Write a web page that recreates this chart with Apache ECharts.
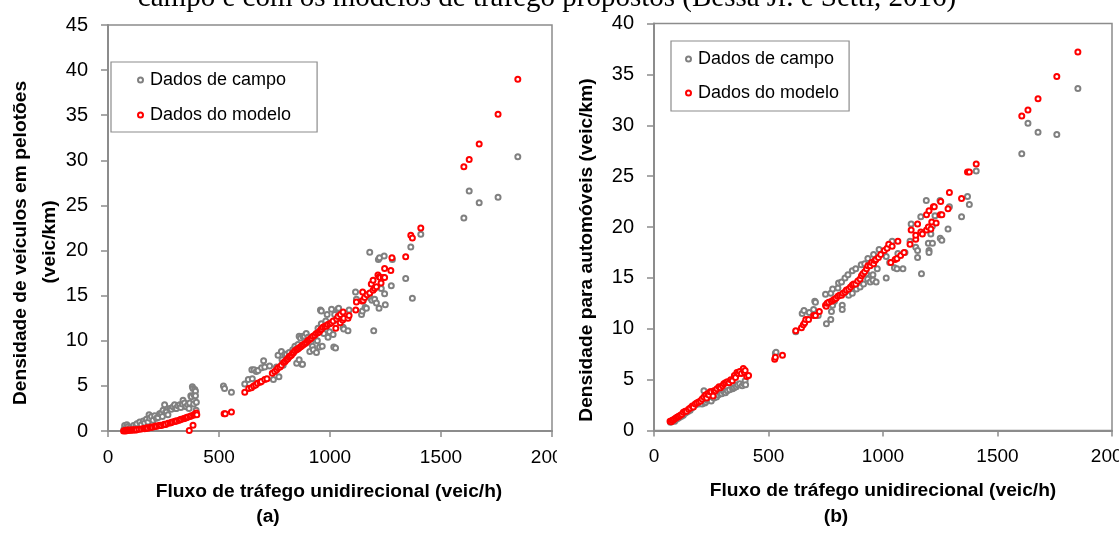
<!DOCTYPE html>
<html>
<head>
<meta charset="utf-8">
<script src="https://cdn.jsdelivr.net/npm/echarts@6/dist/echarts.min.js"></script>
<style>
html,body{margin:0;padding:0;background:#fff;}
#chart{width:1119px;height:533px;}
</style>
</head>
<body>
<div id="chart"></div>
<script>
// ---------- DATA ----------
const seriesNames = ['Dados de campo', 'Dados do modelo'];
const yMaxA = 45;
const yMaxB = 40;

// (a) Densidade de veículos em pelotões
const campoA = [
  [72,0.2],[75,0.6],[80,0.3],[85,0.7],[90,0.5],[95,0.2],[100,0.4],[110,0.3],[115,0.6],[125,0.5],[130,0.8],[143,1.0],[150,0.7],[159,1.1],[165,0.9],[173,1.3],[180,1.0],[185,1.8],[188,1.4],[196,1.6],[203,1.2],[210,1.7],[218,1.4],[225,1.5],[232,1.9],[240,2.0],[245,1.6],[248,2.3],[255,2.9],[260,2.1],[263,2.1],[270,1.8],[278,2.5],[285,2.4],[293,2.7],[300,2.9],[305,2.5],[308,2.5],[315,2.8],[323,2.9],[328,2.6],[335,3.0],[338,3.4],[345,3.1],[352,2.7],[360,2.9],[365,2.5],[368,3.1],[373,3.9],[376,3.8],[380,4.9],[383,4.7],[386,3.0],[388,4.0],[391,4.6],[394,4.4],[394,3.9],[397,2.3],[398,3.2],
  [520,5.0],[525,4.7],[556,4.3],[616,5.2],[632,5.7],[648,6.8],[650,5.8],[658,6.8],[668,6.6],[676,6.7],[692,7.0],[701,7.8],[706,7.1],[728,7.2],[745,5.7],[759,7.1],[766,8.4],[770,6.0],[781,8.8],[784,7.9],[789,7.3],[796,8.5],[804,8.5],[816,8.7],[832,9.0],[834,8.7],[842,9.4],[849,9.1],[850,7.5],[856,9.6],[861,7.9],[861,10.5],[867,10.3],[874,7.4],[876,7.4],[878,10.5],[885,10.5],[893,10.8],[901,10.4],[909,8.8],[914,9.8],[916,10.3],[921,9.4],[925,9.0],[939,8.7],[943,10.0],[946,11.4],[953,9.3],[957,13.4],[961,11.9],[961,13.3],[965,9.4],[966,11.3],[972,10.8],[981,12.2],[987,12.9],[991,10.4],[998,11.0],[1007,13.5],[1014,10.7],[1017,9.3],[1021,12.9],[1025,9.2],[1029,12.3],[1035,13.5],[1039,13.6],[1046,12.6],[1059,11.5],[1062,11.3],[1081,11.1],[1086,13.4],[1115,15.4],[1119,14.6],[1142,12.9],[1146,13.3],[1149,14.4],[1158,13.7],[1164,13.6],[1179,19.8],[1183,14.7],[1189,14.5],[1197,11.1],[1201,14.6],[1209,14.2],[1218,19.0],[1221,13.6],[1223,19.2],[1231,15.8],[1244,19.4],[1246,15.2],[1249,14.0],[1276,16.1],[1281,19.0],[1341,16.9],[1364,20.4],[1371,14.7],[1409,21.8],[1603,23.6],[1627,26.6],[1672,25.3],[1757,25.9],[1846,30.4]
];
const modeloA = [
  [70,0.0],[75,0.05],[80,0.0],[85,0.1],[90,0.05],[95,0.1],[100,0.08],[105,0.1],[110,0.12],[115,0.1],[120,0.15],[125,0.12],[130,0.15],[140,0.2],[150,0.22],[160,0.28],[165,0.25],[170,0.3],[175,0.35],[180,0.3],[190,0.4],[195,0.45],[200,0.42],[210,0.5],[215,0.55],[220,0.52],[230,0.6],[235,0.65],[240,0.62],[250,0.7],[255,0.75],[260,0.72],[270,0.85],[280,0.9],[285,0.95],[290,1.0],[300,1.05],[305,1.1],[310,1.12],[320,1.2],[325,1.25],[330,1.3],[340,1.35],[345,1.4],[350,1.45],[355,1.5],[360,1.55],[370,1.6],[375,1.7],[385,1.75],[390,1.85],[395,1.9],[398,2.0],[400,1.8],[366,0.05],[383,0.65],
  [523,1.9],[528,1.9],[556,2.1],[616,4.3],[634,4.7],[646,4.8],[656,5.0],[665,5.1],[673,5.3],[685,5.4],[691,5.5],[706,5.7],[716,5.8],[740,6.4],[751,6.6],[760,6.8],[766,7.0],[775,7.1],[781,7.3],[791,7.6],[798,7.7],[804,7.9],[810,8.0],[815,8.2],[820,8.3],[826,8.4],[831,8.6],[836,8.7],[842,8.9],[849,9.0],[855,9.1],[860,9.2],[866,9.3],[871,9.4],[876,9.5],[881,9.6],[888,9.7],[894,9.8],[900,10.0],[905,10.1],[910,10.2],[916,10.3],[923,10.5],[931,10.6],[938,10.8],[946,10.9],[952,11.0],[957,11.2],[962,11.3],[968,11.5],[976,11.6],[984,11.6],[990,11.8],[999,11.9],[1006,12.0],[1014,12.2],[1026,11.4],[1030,12.4],[1036,12.7],[1046,12.0],[1047,12.9],[1057,12.3],[1059,13.2],[1062,12.5],[1081,12.5],[1086,12.8],[1116,13.4],[1119,14.3],[1144,14.4],[1149,14.5],[1147,15.4],[1156,14.8],[1167,15.1],[1179,15.3],[1186,16.3],[1194,15.6],[1194,16.7],[1201,15.8],[1209,16.0],[1216,17.3],[1222,17.1],[1226,17.0],[1230,16.4],[1240,17.0],[1246,18.0],[1246,17.0],[1274,17.8],[1279,19.2],[1341,19.3],[1364,21.7],[1371,21.4],[1409,22.5],[1603,29.3],[1627,30.1],[1672,31.8],[1757,35.1],[1846,39.0]
];

// (b) Densidade para automóveis
const campoB = [
  [72,0.8],[78,0.9],[85,1.0],[90,0.9],[98,1.1],[105,1.2],[112,1.3],[120,1.4],[128,1.5],[135,1.7],[142,1.8],[150,1.9],[158,2.0],[165,2.2],[172,2.4],[180,2.5],[188,2.7],[195,2.6],[203,2.8],[210,2.6],[218,3.9],[222,2.7],[226,2.8],[232,3.0],[240,3.1],[250,2.9],[255,3.3],[262,3.2],[273,3.3],[280,3.5],[290,3.6],[296,3.6],[305,3.8],[312,3.7],[320,3.9],[330,4.0],[343,4.1],[350,4.2],[359,4.3],[365,4.5],[374,4.6],[385,4.4],[393,4.6],[398,4.9],[400,4.5],
  [530,7.6],[533,7.7],[619,9.7],[647,11.5],[655,11.8],[678,11.6],[697,11.9],[702,12.7],[705,12.6],[717,11.3],[749,13.4],[753,10.5],[772,13.5],[772,10.9],[775,11.7],[780,13.9],[780,12.3],[788,12.7],[803,14.0],[806,14.5],[819,14.6],[822,12.3],[822,11.9],[834,15.0],[847,15.3],[850,13.3],[866,15.7],[866,13.5],[881,15.9],[884,13.9],[900,14.1],[905,16.3],[915,14.4],[920,16.4],[928,15.4],[933,14.9],[934,16.9],[944,14.6],[956,14.8],[956,15.3],[959,17.3],[970,14.6],[975,15.9],[983,17.8],[1014,17.1],[1014,15.0],[1029,16.5],[1040,18.6],[1050,16.0],[1061,15.9],[1065,17.4],[1087,15.9],[1096,17.5],[1118,18.6],[1123,20.3],[1143,18.0],[1151,17.7],[1151,17.0],[1165,21.0],[1168,15.4],[1189,22.6],[1198,18.4],[1201,17.7],[1201,17.5],[1209,19.3],[1216,20.1],[1216,18.4],[1227,21.1],[1249,22.6],[1250,18.9],[1257,18.7],[1284,19.8],[1290,22.0],[1343,21.0],[1369,23.0],[1377,22.2],[1407,25.5],[1606,27.2],[1633,30.2],[1677,29.3],[1759,29.1],[1851,33.6]
];
const modeloB = [
  [70,0.9],[75,0.85],[80,1.0],[83,1.0],[88,1.1],[94,1.2],[100,1.3],[105,1.35],[109,1.4],[115,1.5],[122,1.6],[128,1.8],[136,1.9],[142,1.9],[151,2.1],[158,2.2],[167,2.4],[172,2.3],[180,2.6],[187,2.7],[195,2.8],[203,2.9],[210,3.1],[218,3.3],[225,3.5],[230,3.2],[234,3.6],[240,3.5],[245,3.8],[250,3.8],[258,3.4],[262,3.9],[268,3.9],[275,4.1],[284,4.3],[290,4.2],[299,4.4],[305,4.6],[312,4.7],[320,4.8],[328,4.7],[335,5.0],[342,4.9],[351,5.4],[356,5.2],[362,5.7],[368,5.6],[374,5.8],[382,5.6],[390,6.1],[395,5.7],[398,5.9],[405,5.3],[413,5.4],
  [527,7.0],[530,7.2],[561,7.4],[619,9.8],[644,10.1],[652,10.4],[658,10.6],[663,10.9],[675,10.9],[697,11.3],[705,11.3],[722,11.7],[749,12.3],[752,12.2],[756,12.5],[763,12.6],[775,12.7],[782,12.8],[788,12.9],[795,13.0],[803,13.2],[810,13.3],[819,13.3],[825,13.5],[834,13.6],[840,13.8],[850,13.9],[858,14.1],[866,14.3],[872,14.4],[881,14.4],[890,14.7],[900,14.9],[906,15.2],[912,15.4],[920,15.6],[928,15.9],[934,16.2],[944,16.2],[950,16.5],[959,16.4],[965,16.7],[969,16.8],[980,17.0],[990,17.3],[1006,17.7],[1018,17.9],[1025,18.3],[1034,16.5],[1040,18.1],[1053,16.8],[1061,16.9],[1065,18.6],[1077,17.2],[1092,17.5],[1118,18.3],[1123,19.7],[1143,18.8],[1143,19.2],[1151,20.3],[1165,19.5],[1172,19.3],[1190,19.7],[1190,21.2],[1198,20.0],[1201,21.6],[1209,19.8],[1213,20.5],[1220,22.0],[1224,22.0],[1232,20.4],[1250,21.2],[1252,22.5],[1257,21.2],[1284,21.8],[1290,23.4],[1343,22.8],[1369,25.4],[1377,25.4],[1407,26.2],[1606,30.9],[1633,31.5],[1677,32.6],[1759,34.8],[1851,37.2]
];

// ---------- STYLE ----------
const FONT = '"Liberation Sans", Arial, Helvetica, sans-serif';
const AXIS_GREY = '#8c8c8c';
const GREY = '#808080';
const RED = '#ff0000';

function xAxisCfg(gridIndex) {
  return {
    gridIndex, type: 'value', min: 0, max: 2000, interval: 500,
    splitLine: {show: false},
    axisLine: {show: true, onZero: false, lineStyle: {color: AXIS_GREY, width: 2}},
    axisTick: {show: true, length: 6, lineStyle: {color: AXIS_GREY, width: 1.5}},
    axisLabel: {color: '#000', fontSize: 19, fontFamily: FONT, margin: 17,
      showMaxLabel: true, showMinLabel: true, hideOverlap: false, formatter: v => String(v)}
  };
}
function yAxisCfg(gridIndex, max) {
  return {
    gridIndex, type: 'value', min: 0, max: max, interval: 5,
    splitLine: {show: false},
    axisLine: {show: true, onZero: false, lineStyle: {color: AXIS_GREY, width: 2}},
    axisTick: {show: true, length: 7, lineStyle: {color: AXIS_GREY, width: 1.5}},
    axisLabel: {color: '#000', fontSize: 20, fontFamily: FONT, margin: 20, formatter: v => String(v)}
  };
}
function scatter(name, data, xi, color) {
  return {
    name, type: 'scatter', xAxisIndex: xi, yAxisIndex: xi, data,
    symbol: 'emptyCircle', symbolSize: 5,
    itemStyle: {color: color, borderColor: color, borderWidth: 1.3, opacity: 1},
    emphasis: {disabled: true},
    z: color === RED ? 3 : 2
  };
}
function legendCfg(left, top, padding, gap) {
  return {
    left, top, orient: 'vertical',
    backgroundColor: '#fff',
    borderColor: AXIS_GREY, borderWidth: 1.2, borderRadius: 0,
    padding, itemGap: gap,
    itemWidth: 5, itemHeight: 5,
    textStyle: {fontSize: 18, fontFamily: FONT, color: '#000', lineHeight: 20, padding: [0,0,0,2]},
    data: seriesNames.map((n, i) => ({name: n, icon: 'emptyCircle',
      itemStyle: {color: i ? RED : GREY, borderColor: i ? RED : GREY, borderWidth: 1}})),
    selectedMode: false
  };
}
function txt(x, y, text, size, bold, rot, family) {
  return {
    type: 'text', x, y, rotation: rot || 0, silent: true,
    style: {
      text, fill: '#000', fontSize: size, fontWeight: bold ? 'bold' : 'normal',
      fontFamily: family || FONT,
      align: 'center', verticalAlign: 'middle',
      textAlign: 'center', textVerticalAlign: 'middle'
    }
  };
}

const option = {
  backgroundColor: '#fff',
  animation: false,
  grid: [
    {left: 108, top: 25, width: 444, height: 406, show: true, borderColor: AXIS_GREY, borderWidth: 1.5,
     backgroundColor: 'transparent', containLabel: false, outerBoundsMode: 'none'},
    {left: 654, top: 23.5, width: 458, height: 407, show: true, borderColor: AXIS_GREY, borderWidth: 1.5,
     backgroundColor: 'transparent', containLabel: false, outerBoundsMode: 'none'}
  ],
  xAxis: [xAxisCfg(0), xAxisCfg(1)],
  yAxis: [yAxisCfg(0, yMaxA), yAxisCfg(1, yMaxB)],
  legend: [
    legendCfg(111, 62, [8, 26, 7, 26], 15),
    legendCfg(671, 41, [8, 10, 8, 14], 14)
  ],
  series: [
    scatter(seriesNames[0], campoA, 0, GREY),
    scatter(seriesNames[1], modeloA, 0, RED),
    scatter(seriesNames[0], campoB, 1, GREY),
    scatter(seriesNames[1], modeloB, 1, RED)
  ],
  graphic: [
    // crop of panel (a) right edge
    {type: 'rect', shape: {x: 557, y: 440, width: 40, height: 40}, style: {fill: '#fff'}, z: 100},
    txt(547, -2, 'campo e com os modelos de tráfego propostos (Bessa Jr. e Setti, 2016)', 29, false, 0, '"Liberation Serif", "Times New Roman", serif'),
    txt(21, 243, 'Densidade de veículos em pelotões', 19.2, true, Math.PI / 2),
    txt(49.5, 242, '(veic/km)', 19.2, true, Math.PI / 2),
    txt(329, 492, 'Fluxo de tráfego unidirecional (veic/h)', 19.2, true),
    txt(268, 517, '(a)', 19.2, true),
    txt(586.5, 250, 'Densidade para automóveis (veic/km)', 19.2, true, Math.PI / 2),
    txt(883, 491, 'Fluxo de tráfego unidirecional (veic/h)', 19.2, true),
    txt(836, 517, '(b)', 19.2, true)
  ]
};

const chart = echarts.init(document.getElementById('chart'), null, {renderer: 'canvas'});
chart.setOption(option);
</script>
</body>
</html>
